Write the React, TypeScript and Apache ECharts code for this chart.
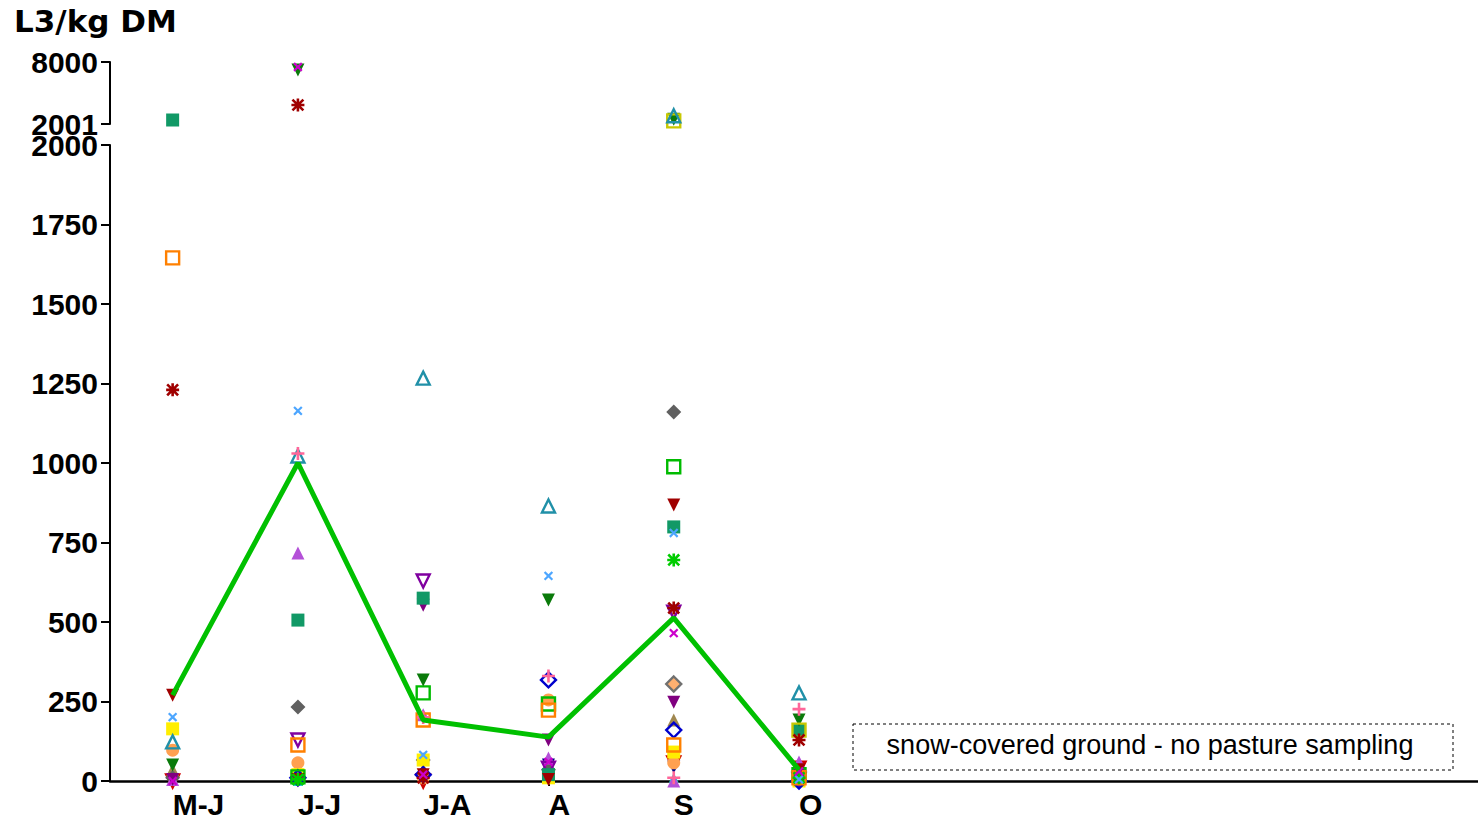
import React, { useEffect, useRef } from "react";
import * as echarts from "echarts";

// ---- data ----
const months = ["M-J", "J-J", "J-A", "A", "S", "O"];
const lowerTicks = [0, 250, 500, 750, 1000, 1250, 1500, 1750, 2000];
const upperTicks = [2001, 8000];
const meanValues = [270, 1000, 192, 138, 513, 35];

const tealSquare = [2388, 506, 575, 20, 799, 160];
const orangeOpenSquare = [1645, 113, 192, 223, 113, 10];
const darkRedAsterisk = [1230, 3839, 10, null, 544, 129];
const darkRedDown = [270, 5, 20, 5, 868, 35];
const lightBlueX = [201, 1164, 82, 645, 780, 5];
const yellowSquare = [164, 20, 66, 10, 91, 0];
const tealOpenTriangle = [123, 1022, 1267, 865, 2800, 277];
const orangeCircle = [97, 57, 10, 255, 57, 5];
const darkGreenDown = [50, 7226, 318, 569, 2450, 192];
const oliveTriangle = [35, 40, 35, 35, 192, 10];
const redOpenDown = [0, null, 0, null, 57, 40];
const purpleDown = [5, 0, 553, 129, 248, 20];
const lilacTriangle = [5, 717, 208, 72, 0, 60];
const grayDiamond = [10, 233, 66, 35, 1160, 10];
const purpleOpenDown = [null, 129, 629, 40, 531, 5];
const greenOpenSquare = [null, 13, 277, 242, 988, 20];
const pinkPlus = [null, 1030, 200, 330, 10, 226];
const blueOpenDiamond = [null, 10, 20, 318, 160, 0];
const greenAsterisk = [null, 5, null, null, 695, 10];
const magentaX = [0, 7516, 20, 60, 465, 30];
const navyDown = [null, null, null, 50, 44, null];
const yellowGreenOpenSquare = [null, null, null, null, 2300, 160];
const grayOpenDiamond = [null, null, null, null, 305, null];
const cyanTriangle = [0, 0, 10, 30, 10, 0];

// ---- styles ----
const PLUS = "M4,0H6V4H10V6H6V10H4V6H0V4H4Z";
const STAR =
  PLUS +
  " M1.5,0.1 L5,3.6 L8.5,0.1 L9.9,1.5 L6.4,5 L9.9,8.5 L8.5,9.9 L5,6.4 L1.5,9.9 L0.1,8.5 L3.6,5 L0.1,1.5Z";

type Site = {
  values: (number | null)[];
  symbol: string;
  color: string;
  open?: boolean;
  rotate?: number;
  size?: number;
  fill?: string;
};

const sites: Site[] = [
  { values: cyanTriangle, symbol: "triangle", color: "#20c8c8", size: 10 },
  { values: redOpenDown, symbol: "triangle", rotate: 180, color: "#d00000", open: true, fill: "#ff6080" },
  { values: navyDown, symbol: "triangle", rotate: 180, color: "#000080" },
  { values: oliveTriangle, symbol: "triangle", color: "#a08850" },
  { values: orangeCircle, symbol: "circle", color: "#ffa050" },
  { values: grayOpenDiamond, symbol: "diamond", color: "#707070", open: true, fill: "#ffb070", size: 15 },
  { values: grayDiamond, symbol: "diamond", color: "#606060", size: 15 },
  { values: yellowSquare, symbol: "rect", color: "#ffee00" },
  { values: lilacTriangle, symbol: "triangle", color: "#b450d8" },
  { values: purpleDown, symbol: "triangle", rotate: 180, color: "#800080" },
  { values: purpleOpenDown, symbol: "triangle", rotate: 180, color: "#8000a0", open: true },
  { values: blueOpenDiamond, symbol: "diamond", color: "#0000cc", open: true, size: 15 },
  { values: greenOpenSquare, symbol: "rect", color: "#00bb00", open: true },
  { values: orangeOpenSquare, symbol: "rect", color: "#ff8000", open: true },
  { values: tealSquare, symbol: "rect", color: "#119966" },
  { values: darkGreenDown, symbol: "triangle", rotate: 180, color: "#0a7a0a" },
  { values: yellowGreenOpenSquare, symbol: "rect", color: "#c8c800", open: true },
  { values: tealOpenTriangle, symbol: "triangle", color: "#2090a8", open: true },
  { values: darkRedDown, symbol: "triangle", rotate: 180, color: "#a00000" },
  { values: darkRedAsterisk, symbol: "path://" + STAR, color: "#a00000" },
  { values: greenAsterisk, symbol: "path://" + STAR, color: "#00cc00" },
  { values: lightBlueX, symbol: "path://" + PLUS, rotate: 45, color: "#4da6ff", size: 11 },
  { values: magentaX, symbol: "path://" + PLUS, rotate: 45, color: "#cc00cc", size: 11 },
  { values: pinkPlus, symbol: "path://" + PLUS, color: "#ff6699" },
];

const FONT = "'Liberation Sans', Arial, Helvetica, sans-serif";
const X_MAX = 10.92;

export default function App() {
  const ref = useRef<HTMLDivElement>(null);

  useEffect(() => {
    if (!ref.current) return;
    const chart = echarts.init(ref.current, null, { renderer: "svg" });

    const series: any[] = [];
    sites.forEach((s, k) => {
      const itemStyle = s.open
        ? { color: s.fill || "rgba(255,255,255,0)", borderColor: s.color, borderWidth: 2.4, opacity: 1 }
        : { color: s.color, opacity: 1 };
      const base = {
        type: "scatter",
        symbol: s.symbol,
        symbolSize: s.size || 13,
        symbolRotate: s.rotate || 0,
        itemStyle,
        z: 2,
        silent: true,
      };
      const lower = s.values
        .map((v, i) => (v != null && v <= 2000 ? [i + 0.5, v] : null))
        .filter((d) => d);
      const upper = s.values
        .map((v, i) => (v != null && v > 2000 ? [i + 0.5, v] : null))
        .filter((d) => d);
      series.push({ ...base, name: "site" + k, xAxisIndex: 0, yAxisIndex: 0, data: lower });
      if (upper.length)
        series.push({ ...base, name: "site" + k + "u", xAxisIndex: 1, yAxisIndex: 1, data: upper });
    });

    series.push({
      type: "line",
      name: "mean",
      xAxisIndex: 0,
      yAxisIndex: 0,
      data: meanValues.map((v, i) => [i + 0.5, v]),
      symbol: "none",
      lineStyle: { color: "#00c000", width: 5 },
      z: 3,
      silent: true,
    });

    const labelStyle = {
      color: "#000",
      fontSize: 30,
      fontWeight: "bold",
      fontFamily: FONT,
    };

    chart.setOption({
      animation: false,
      backgroundColor: "#fff",
      grid: [
        { left: 110, top: 145, width: 1368, height: 636 },
        { left: 110, top: 62, width: 1368, height: 62 },
      ],
      xAxis: [
        {
          type: "value",
          gridIndex: 0,
          min: 0,
          max: X_MAX,
          axisLine: { show: true, onZero: false, lineStyle: { color: "#000", width: 2.5 } },
          axisTick: {
            show: true,
            customValues: months.map((_, i) => i + 0.5),
            length: 5,
            lineStyle: { color: "#000", width: 2 },
          },
          axisLabel: {
            ...labelStyle,
            customValues: months.map((_, i) => i + 0.5),
            formatter: (v: number) => months[Math.round(v - 0.5)] ?? "",
            margin: 8,
            align: "left",
          },
          splitLine: { show: false },
        },
        {
          type: "value",
          gridIndex: 1,
          min: 0,
          max: X_MAX,
          show: false,
        },
      ],
      yAxis: [
        {
          type: "value",
          gridIndex: 0,
          min: 0,
          max: 2000,
          interval: 250,
          axisLine: { show: true, lineStyle: { color: "#000", width: 2 } },
          axisTick: { show: true, length: 9, lineStyle: { color: "#000", width: 2 } },
          axisLabel: {
            ...labelStyle,
            margin: 12,
            customValues: lowerTicks,
            formatter: (v: number) => String(v),
          },
          splitLine: { show: false },
        },
        {
          type: "value",
          gridIndex: 1,
          min: 2001,
          max: 8000,
          axisLine: { show: true, lineStyle: { color: "#000", width: 2 } },
          axisTick: { show: true, length: 9, customValues: upperTicks, lineStyle: { color: "#000", width: 2 } },
          axisLabel: {
            ...labelStyle,
            margin: 12,
            customValues: upperTicks,
            formatter: (v: number) => String(v),
            padding: [0, 0, 5, 0],
          },
          splitLine: { show: false },
        },
      ],
      graphic: [
        {
          type: "text",
          left: 14,
          top: 5,
          style: {
            text: "L3/kg DM",
            fill: "#000",
            fontSize: 31,
            fontWeight: "bold",
            fontFamily: "'DejaVu Sans', sans-serif",
          },
        },
        {
          type: "rect",
          shape: { x: 853, y: 724, width: 600, height: 46 },
          style: { fill: "none", stroke: "#000", lineWidth: 1, lineDash: [3, 3] },
        },
        {
          type: "text",
          x: 1150,
          y: 745,
          style: {
            text: "snow-covered ground - no pasture sampling",
            fill: "#000",
            fontSize: 27,
            fontFamily: FONT,
            textAlign: "center",
            textVerticalAlign: "middle",
          },
        },
      ],
      series,
    });

    return () => chart.dispose();
  }, []);

  return (
    <div
      ref={ref}
      style={{ position: "fixed", left: 0, top: 0, width: 1478, height: 826 }}
    />
  );
}
